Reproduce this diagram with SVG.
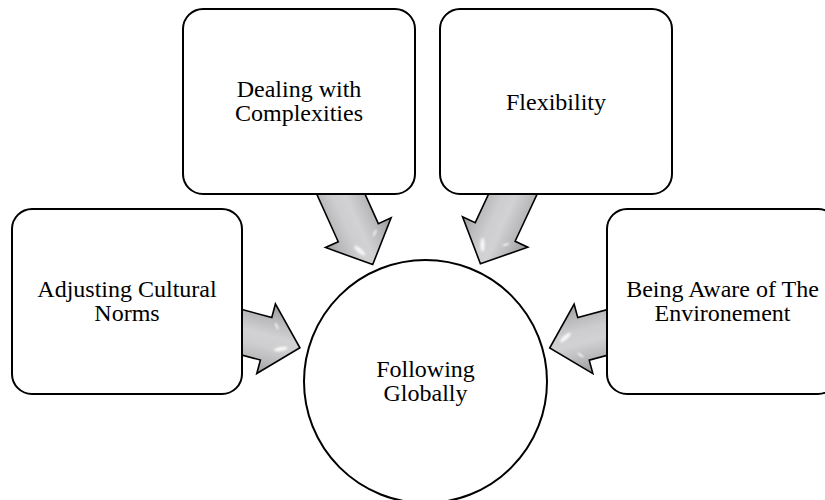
<svg xmlns="http://www.w3.org/2000/svg" width="825" height="500" viewBox="0 0 825 500">
  <defs>
    <style>
      .box { fill: #ffffff; stroke: #000000; stroke-width: 2; }
      .hub { fill: #ffffff; stroke: #000000; stroke-width: 2; }
      .label { font-size: 24px; fill: #000000; text-anchor: middle; }
      .arrow-body { fill: url(#arrowShade); stroke: #000000; stroke-width: 1.6; stroke-linejoin: miter; }
      .shine { fill: #ffffff; opacity: 0.9; filter: url(#soft); }
    </style>
    <!-- shading across the arrow width, in the arrow's own frame -->
    <linearGradient id="arrowShade" gradientUnits="userSpaceOnUse" x1="0" y1="-36" x2="0" y2="36">
      <stop offset="0" stop-color="#98989a"/>
      <stop offset="0.22" stop-color="#b8b8ba"/>
      <stop offset="0.45" stop-color="#d2d2d4"/>
      <stop offset="0.62" stop-color="#cdcdcf"/>
      <stop offset="0.82" stop-color="#b8b8ba"/>
      <stop offset="1" stop-color="#9c9c9e"/>
    </linearGradient>
    <filter id="soft" x="-50%" y="-50%" width="200%" height="200%">
      <feGaussianBlur stdDeviation="0.8"/>
    </filter>
    <!-- block arrow, tip at the origin, pointing along +x -->
    <g id="blockArrow">
      <path class="arrow-body" d="M0,0 L-35,36 L-35,22 L-110,22 L-110,-22 L-35,-22 L-35,-36 Z"/>
      <ellipse class="shine" cx="-18" cy="6" rx="7" ry="2" transform="rotate(-25 -18 6)"/>
      <ellipse class="shine" cx="-28" cy="-15" rx="3.5" ry="1" transform="rotate(50 -28 -15)" opacity="0.6"/>
    </g>
  </defs>

  <g id="connectors">
    <use href="#blockArrow" transform="translate(299.9,347.8) rotate(15)"/>
    <use href="#blockArrow" transform="translate(372.7,264.6) rotate(65.7)"/>
    <use href="#blockArrow" transform="translate(480.4,263.7) rotate(115)"/>
    <use href="#blockArrow" transform="translate(549.7,348) rotate(164.9)"/>
  </g>

  <g font-family="Liberation Serif, Times New Roman, serif">
    <g id="node-adjusting">
      <rect class="box" x="12" y="209" width="230" height="185" rx="20" ry="20"/>
      <text class="label" x="127" y="296.7">Adjusting Cultural</text>
      <text class="label" x="127" y="321.2">Norms</text>
    </g>

    <g id="node-complexities">
      <rect class="box" x="183" y="9" width="232" height="185" rx="20" ry="20"/>
      <text class="label" x="299" y="96.7">Dealing with</text>
      <text class="label" x="299" y="121.2">Complexities</text>
    </g>

    <g id="node-flexibility">
      <rect class="box" x="440" y="9" width="232" height="185" rx="20" ry="20"/>
      <text class="label" x="556" y="110">Flexibility</text>
    </g>

    <g id="node-environment">
      <rect class="box" x="607" y="209" width="231" height="185" rx="20" ry="20"/>
      <text class="label" x="722.5" y="296.7">Being Aware of The</text>
      <text class="label" x="722.5" y="321.2">Environement</text>
    </g>

    <g id="node-following">
      <circle class="hub" cx="425.5" cy="381.5" r="121.5"/>
      <text class="label" x="425.5" y="376.7">Following</text>
      <text class="label" x="425.5" y="401.2">Globally</text>
    </g>
  </g>
</svg>
